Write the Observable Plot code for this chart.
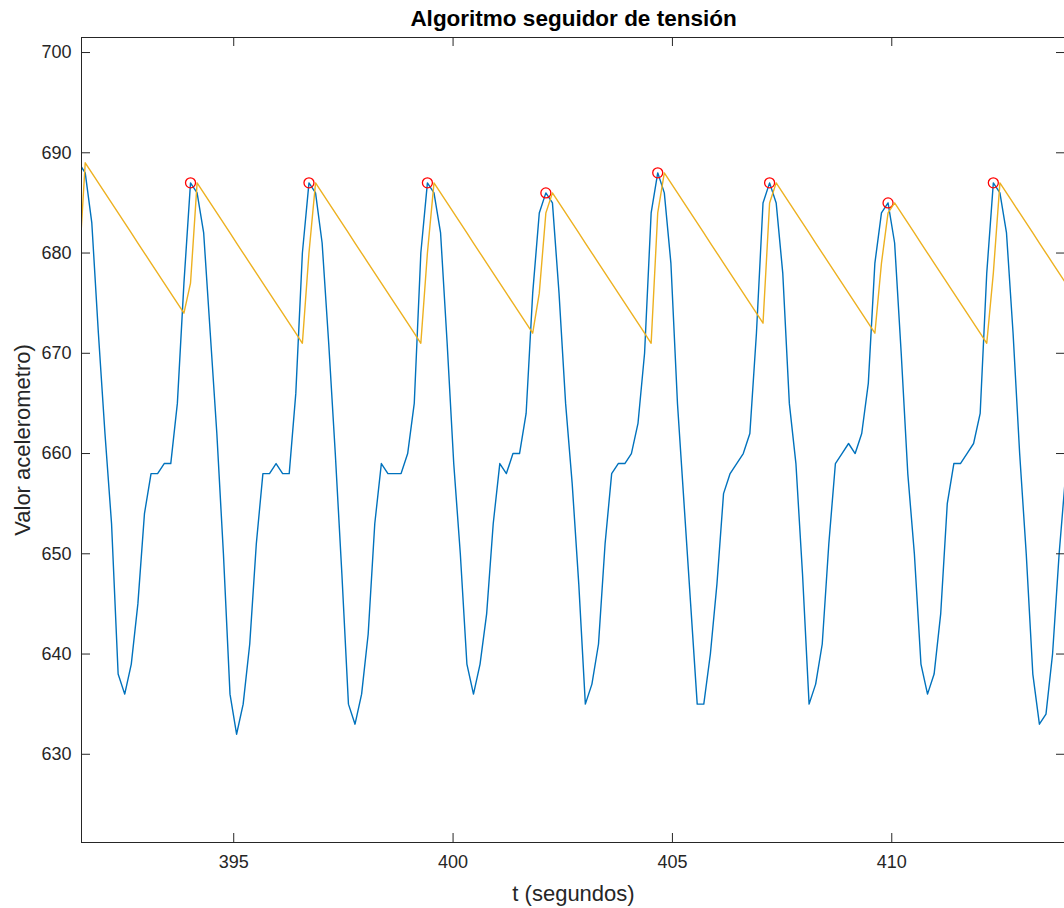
<!DOCTYPE html>
<html>
<head>
<meta charset="utf-8">
<script src="https://cdn.jsdelivr.net/npm/d3@7"></script>
<script src="https://cdn.jsdelivr.net/npm/@observablehq/plot@0.6"></script>
<style>
  html, body { margin: 0; padding: 0; background: #fff; overflow: hidden; }
</style>
</head>
<body>
<div id="chart"></div>
<script>
// Accelerometer record: first sample time and sampling interval (seconds)
const t0 = 391.465;
const dt = 0.15;

// Raw accelerometer samples
const accel = [
  689, 688, 683, 672, 662, 653, 638, 636, 639, 645, 654, 658, 658, 659, 659, 665, 677, 687,
  686, 682, 672, 662, 650, 636, 632, 635, 641, 651, 658, 658, 659, 658, 658, 666, 680, 687,
  686, 681, 671, 660, 648, 635, 633, 636, 642, 653, 659, 658, 658, 658, 660, 665, 680, 687,
  686, 682, 671, 659, 650, 639, 636, 639, 644, 653, 659, 658, 660, 660, 664, 676, 684, 686,
  685, 676, 665, 657, 647, 635, 637, 641, 651, 658, 659, 659, 660, 663, 670, 684, 688,
  686, 679, 665, 655, 645, 635, 635, 640, 647, 656, 658, 659, 660, 662, 672, 685, 687,
  685, 678, 665, 659, 648, 635, 637, 641, 651, 659, 660, 661, 660, 662, 667, 679, 684, 685,
  681, 670, 658, 650, 639, 636, 638, 644, 655, 659, 659, 660, 661, 664, 678, 687,
  686, 682, 672, 660, 650, 638, 633, 634, 640, 650, 658
];

// Output of the tension follower, one value per sample
const follower = [
  678, 689, 688, 687, 686, 685, 684, 683, 682, 681, 680, 679, 678, 677, 676, 675, 674, 677,
  687, 686, 685, 684, 683, 682, 681, 680, 679, 678, 677, 676, 675, 674, 673, 672, 671, 680,
  687, 686, 685, 684, 683, 682, 681, 680, 679, 678, 677, 676, 675, 674, 673, 672, 671, 680,
  687, 686, 685, 684, 683, 682, 681, 680, 679, 678, 677, 676, 675, 674, 673, 672, 676, 684,
  686, 685, 684, 683, 682, 681, 680, 679, 678, 677, 676, 675, 674, 673, 672, 671, 684,
  688, 687, 686, 685, 684, 683, 682, 681, 680, 679, 678, 677, 676, 675, 674, 673, 685,
  687, 686, 685, 684, 683, 682, 681, 680, 679, 678, 677, 676, 675, 674, 673, 672, 679, 684,
  685, 684, 683, 682, 681, 680, 679, 678, 677, 676, 675, 674, 673, 672, 671, 678,
  687, 686, 685, 684, 683, 682, 681, 680, 679, 678, 677
];

// Sample indices of the detected peaks
const peakIdx = [17, 35, 53, 71, 88, 105, 123, 139];

// Axis ticks
const xTicks = [395, 400, 405, 410];
const yTicks = [630, 640, 650, 660, 670, 680, 690, 700];

const signal = accel.map((v, i) => ({t: t0 + i * dt, v}));
const envelope = follower.map((v, i) => ({t: t0 + i * dt, v}));
const peaks = peakIdx.map(i => ({t: t0 + i * dt, v: accel[i]}));

const W = 1064, H = 908;
const mL = 81, mR = -1, mT = 37, mB = 66;
const frameW = W - mL - mR, frameH = H - mT - mB;
const tickLen = 9;
const ink = "#262626";

const chart = Plot.plot({
  width: W,
  height: H,
  marginLeft: mL,
  marginRight: mR,
  marginTop: mT,
  marginBottom: mB,
  style: {
    fontFamily: "'Liberation Sans', Arial, Helvetica, sans-serif",
    color: ink,
    background: "#fff",
    overflow: "visible"
  },
  x: {domain: [391.53, 413.96], axis: null},
  y: {domain: [621.2, 701.5], axis: null},
  marks: [
    // series
    Plot.line(signal, {x: "t", y: "v", stroke: "#0072BD", strokeWidth: 1.4, clip: true}),
    Plot.dot(peaks, {x: "t", y: "v", r: 5, stroke: "#FF0000", fill: "none", strokeWidth: 1.3, clip: true}),
    Plot.line(envelope, {x: "t", y: "v", stroke: "#EDB120", strokeWidth: 1.4, clip: true}),
    // box and inward ticks on all four sides
    Plot.frame({stroke: ink, strokeWidth: 1}),
    Plot.tickX(xTicks, {x: d => d, insetTop: frameH - tickLen, stroke: ink}),
    Plot.tickX(xTicks, {x: d => d, insetBottom: frameH - tickLen, stroke: ink}),
    Plot.tickY(yTicks, {y: d => d, insetRight: frameW - tickLen, stroke: ink}),
    Plot.tickY(yTicks, {y: d => d, insetLeft: frameW - tickLen, stroke: ink}),
    // tick labels
    Plot.axisX(xTicks, {tickSize: 0, tickPadding: 13, fontSize: 18, label: null}),
    Plot.axisY(yTicks, {tickSize: 0, tickPadding: 10, fontSize: 18, label: null}),
    // titles
    Plot.text(["Algoritmo seguidor de tensión"], {
      frameAnchor: "top", lineAnchor: "middle", dy: -19,
      fontSize: 22.5, fontWeight: "bold", fill: "#000"
    }),
    Plot.text(["t (segundos)"], {
      frameAnchor: "bottom", lineAnchor: "middle", dy: 51,
      fontSize: 22, fill: ink
    }),
    Plot.text(["Valor acelerometro)"], {
      frameAnchor: "left", textAnchor: "middle", lineAnchor: "middle",
      dx: -59, rotate: -90, fontSize: 22, fill: ink
    })
  ]
});

document.getElementById("chart").appendChild(chart);
</script>
</body>
</html>
